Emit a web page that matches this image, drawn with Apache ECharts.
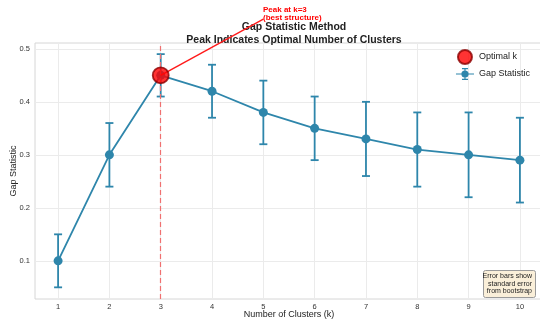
<!DOCTYPE html>
<html><head><meta charset="utf-8">
<script src="https://cdn.jsdelivr.net/npm/echarts@6/dist/echarts.min.js"></script>
<style>html,body{margin:0;padding:0;background:#fff}#c{width:540px;height:321px}</style>
</head><body><div id="c"></div>
<script>
const ks = [1,2,3,4,5,6,7,8,9,10];
const gapValues = [0.10,0.30,0.45,0.42,0.38,0.35,0.33,0.31,0.30,0.29];
const gapErrors = [0.05,0.06,0.04,0.05,0.06,0.06,0.07,0.07,0.08,0.08];
const optimalK = 3;
const yTicks = [0.1,0.2,0.3,0.4,0.5];
const xTicks = [1,2,3,4,5,6,7,8,9,10];
const annotationAnchor = [5, 0.556];

const FONT = 'Liberation Sans';
const BLUE = '#2E86AB';
const chart = echarts.init(document.getElementById('c'), null, {renderer:'canvas'});
const optVal = gapValues[ks.indexOf(optimalK)];
const errData = ks.map((k,i)=>[k, gapValues[i]-gapErrors[i], gapValues[i]+gapErrors[i]]);

const gapIcon = 'path://M0,9h30v2h-30z M14,1h2v18h-2z M10,0h10v2h-10z M10,18h10v2h-10z M9,10a6,6 0 1,1 12,0a6,6 0 1,1 -12,0z';

chart.setOption({
  animation:false,
  textStyle:{fontFamily:FONT},
  title:{
    text:'Gap Statistic Method\nPeak Indicates Optimal Number of Clusters',
    left:289, top:16, textAlign:'center',
    textStyle:{fontFamily:FONT,fontSize:10.5,fontWeight:'bold',color:'#222',lineHeight:12.5}
  },
  grid:{left:35,right:-3,top:43,bottom:22,show:true,borderColor:'#d6d6d6',borderWidth:1,backgroundColor:'#fff',
    containLabel:false, outerBoundsMode:'none'},
  legend:{
    orient:'vertical', right:5, top:44, itemGap:3, itemWidth:18, itemHeight:14,
    textStyle:{fontFamily:FONT,fontSize:9,color:'#222'},
    data:[{name:'Optimal k',icon:'circle'},{name:'Gap Statistic',icon:gapIcon}]
  },
  xAxis:{
    type:'value', min:0.55, max:10.45,
    name:'Number of Clusters (k)', nameLocation:'middle', nameGap:11.5, nameMoveOverlap:false,
    nameTextStyle:{fontFamily:FONT,fontSize:9,color:'#222'},
    axisLine:{show:false}, axisTick:{show:false, customValues:xTicks},
    axisLabel:{customValues:xTicks, fontSize:7.5, color:'#333', margin:4, fontFamily:FONT},
    splitLine:{show:true,lineStyle:{color:'#ebebeb',width:1}}
  },
  yAxis:{
    type:'value', min:0.028, max:0.511,
    name:'Gap Statistic', nameLocation:'middle', nameGap:17, nameMoveOverlap:false,
    nameTextStyle:{fontFamily:FONT,fontSize:9,color:'#222'},
    axisLine:{show:false}, axisTick:{show:false, customValues:yTicks},
    axisLabel:{customValues:yTicks, fontSize:7.5, color:'#333', margin:5, fontFamily:FONT,
      formatter:v=>v.toFixed(1)},
    splitLine:{show:true,lineStyle:{color:'#ebebeb',width:1}}
  },
  series:[
    {
      name:'vline', type:'line', silent:true, data:[], 
      markLine:{symbol:'none', silent:true, label:{show:false},
        lineStyle:{color:'#f07070',type:[5,3],width:1.2,opacity:1},
        emphasis:{disabled:true},
        data:[{xAxis:optimalK}]}
    },
    {
      name:'Gap Statistic', type:'custom', z:3,
      data:errData,
      renderItem:function(params, api){
        const x = api.value(0);
        const p1 = api.coord([x, api.value(1)]);
        const p2 = api.coord([x, api.value(2)]);
        const cw = 4;
        const st = {stroke:BLUE, lineWidth:1.8};
        return {type:'group', children:[
          {type:'line', shape:{x1:p1[0],y1:p1[1],x2:p2[0],y2:p2[1]}, style:st},
          {type:'line', shape:{x1:p1[0]-cw,y1:p1[1],x2:p1[0]+cw,y2:p1[1]}, style:st},
          {type:'line', shape:{x1:p2[0]-cw,y1:p2[1],x2:p2[0]+cw,y2:p2[1]}, style:st}
        ]};
      },
      itemStyle:{color:BLUE}
    },
    {
      name:'Gap Statistic', type:'line', z:4,
      data:ks.map((k,i)=>[k,gapValues[i]]),
      symbol:'circle', symbolSize:9, showSymbol:true,
      lineStyle:{color:BLUE,width:1.8}, itemStyle:{color:BLUE}
    },
    {
      name:'arrow', type:'line', z:6, clip:false, silent:true,
      data:[[optimalK,optVal],annotationAnchor],
      symbol:'none', lineStyle:{color:'#ff1a1a',width:1.4}
    },
    {
      name:'Optimal k', type:'scatter', z:7,
      data:[[optimalK,optVal]],
      symbol:'circle', symbolSize:16,
      itemStyle:{color:'#ff0000',borderColor:'#8b0000',borderWidth:1.8}
    }
  ],
  graphic:[
    {type:'text', left:263, top:6, z:10, style:{text:'Peak at k=3\n(best structure)', fill:'#ff0000',
      font:'bold 8px "Liberation Sans"', lineHeight:8}},
    {type:'rect', left:483, top:270, z:10, shape:{width:52,height:27,r:2}, style:{fill:'#faefd9',stroke:'#9a9a9a',lineWidth:1}},
    {type:'text', right:8, top:272, z:11, style:{text:'Error bars show\nstandard error\nfrom bootstrap', textAlign:'right',
        fill:'#222', font:'7px "Liberation Sans"', lineHeight:7.8}}
  ]
});
</script></body></html>
